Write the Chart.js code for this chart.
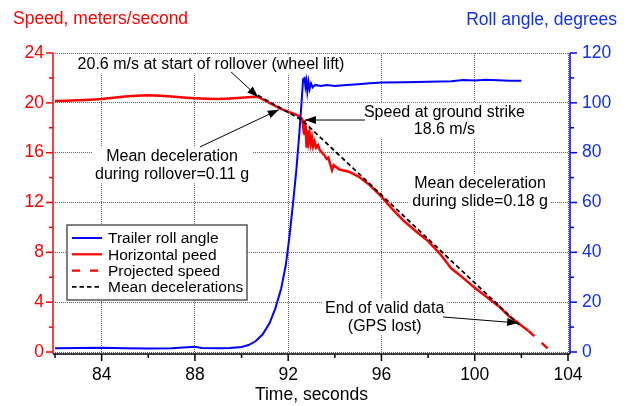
<!DOCTYPE html>
<html><head><meta charset="utf-8">
<script src="https://cdn.jsdelivr.net/npm/chart.js@4/dist/chart.umd.min.js"></script>
<style>html,body{margin:0;padding:0;background:#fff}#wrap{width:629px;height:406px}</style>
</head><body><div id="wrap"><canvas id="c" width="629" height="406"></canvas></div>
<script>
// ---- data ----
const speedTime = [82.0,82.5,83.0,83.5,84.0,84.5,85.0,85.5,86.0,86.5,87.0,87.5,88.0,88.5,89.0,89.5,90.0,90.4,90.7,91.0,91.3,91.6,91.9,92.2,92.45,92.6,92.64,92.68,92.71,92.75,92.79,92.83,92.87,92.92,92.97,93.02,93.07,93.13,93.2,93.28,93.36,93.45,93.55,93.65,93.72,93.8,93.88,93.95,94.2,94.6,95.0,95.5,96.0,96.5,97.0,97.5,98.0,98.5,99.0,99.5,100.0,100.5,101.0,101.5,102.0,102.3];
const speedValues = [20.15,20.17,20.2,20.25,20.31,20.4,20.5,20.57,20.6,20.57,20.5,20.42,20.36,20.32,20.3,20.34,20.4,20.46,20.48,20.2,19.9,19.6,19.35,19.15,18.95,18.7,18.1,18.6,17.4,18.2,16.4,17.8,16.9,17.5,16.7,17.2,16.5,16.9,16.4,16.6,16.2,16.0,15.8,15.5,15.6,15.1,14.6,15.0,14.65,14.47,14.1,13.4,12.47,11.4,10.45,9.65,8.9,7.9,6.7,5.95,5.15,4.44,3.72,2.82,2.12,1.7];
const rollTime = [82.0,83.0,84.0,85.0,86.0,87.0,88.0,88.3,89.0,89.5,90.0,90.3,90.6,90.9,91.2,91.45,91.7,91.9,92.05,92.2,92.35,92.48,92.58,92.64,92.7,92.74,92.78,92.82,92.87,92.92,92.98,93.05,93.15,93.4,93.65,94.0,94.5,95.0,95.5,96.0,97.0,98.0,99.0,99.5,100.0,100.5,101.0,101.5,102.0];
const rollValues = [1.5,1.6,1.7,1.5,1.4,1.5,2.1,1.6,1.5,1.6,2.0,2.8,4.3,7.0,11.5,17.5,25.5,35,46,59,73,88,101,109.5,110,106.5,108.8,104.5,108.5,105.5,107.8,106.2,107.2,106.8,107.2,106.8,107.2,107.5,107.9,108.2,108.3,108.5,108.7,109.2,109.0,109.3,109.1,108.9,108.9];
const projTime = [102.3,103.3];
const projValues = [1.7,0];
const decelTime = [90.7,92.6,101.9];
const decelValues = [20.6,18.6,2.2];
const xTicks = [84,88,92,96,100,104];
const xMinorTicks = [82,86,90,94,98,102];
const speedTicks = [0,4,8,12,16,20,24];
const speedMinorTicks = [2,6,10,14,18,22];
const rollTicks = [0,20,40,60,80,100,120];
const rollMinorTicks = [10,30,50,70,90,110];
const seriesLabels = ['Trailer roll angle','Horizontal peed','Projected speed','Mean decelerations'];

const RED='#ff0000', BLUE='#0000ff', BLUETXT='#1030f0';
const FONT='"Liberation Sans", Arial, sans-serif';
const LH = 17.5;
// annotation texts; anchor = centre of first line in (time, speed) units
const notes = [
  {lines:['20.6 m/s at start of rollover (wheel lift)'], t:88.69, v:23.12},
  {lines:['Mean deceleration','during rollover=0.11 g'], t:87.02, v:15.73},
  {lines:['Speed at ground strike','18.6 m/s'], t:98.70, v:19.30},
  {lines:['Mean deceleration','during slide=0.18 g'], t:100.23, v:13.57},
  {lines:['End of valid data','(GPS lost)'], t:96.14, v:3.53}
];
const arrows = [
  [89.55,22.48, 90.71,20.47],
  [88.22,16.46, 91.60,19.45],
  [95.29,18.62, 92.72,18.62],
  [98.64,2.81, 101.86,2.33]
];

const pts = (xs, ys) => xs.map((x,i)=>({x, y: ys[i]}));

function arrow(ctx,x1,y1,x2,y2){
  ctx.beginPath(); ctx.moveTo(x1,y1); ctx.lineTo(x2,y2); ctx.stroke();
  const a=Math.atan2(y2-y1,x2-x1), L=11, W=4;
  ctx.beginPath();
  ctx.moveTo(x2,y2);
  ctx.lineTo(x2-L*Math.cos(a)+W*Math.sin(a), y2-L*Math.sin(a)-W*Math.cos(a));
  ctx.lineTo(x2-L*Math.cos(a)-W*Math.sin(a), y2-L*Math.sin(a)+W*Math.cos(a));
  ctx.closePath(); ctx.fill();
}

const overlay = {
  id:'overlay',
  beforeDraw(chart){
    const c=chart.ctx; c.save(); c.fillStyle='#fff'; c.fillRect(0,0,chart.width,chart.height); c.restore();
  },
  beforeDatasetsDraw(chart){
    const {ctx} = chart; const xs=chart.scales.x, ys=chart.scales.y;
    ctx.save(); ctx.font = '16px '+FONT; ctx.fillStyle='#fff';
    notes.forEach(n=>{
      const cx=xs.getPixelForValue(n.t), cy=ys.getPixelForValue(n.v);
      const w=Math.max(...n.lines.map(l=>ctx.measureText(l).width))+6;
      const h=n.lines.length*LH+1;
      ctx.fillRect(cx-w/2, cy-LH/2, w, h);
    });
    ctx.restore();
  },
  afterDraw(chart){
    const {ctx, chartArea:a} = chart; const xs=chart.scales.x, ys=chart.scales.y, y2=chart.scales.y2;
    ctx.save();
    // axes
    ctx.lineWidth=1.5;
    ctx.strokeStyle=RED; ctx.beginPath(); ctx.moveTo(a.left-2,a.top); ctx.lineTo(a.left-2,a.bottom+2); ctx.stroke();
    speedTicks.concat(speedMinorTicks).forEach(v=>{const y=ys.getPixelForValue(v); const L=speedTicks.includes(v)?7:4; ctx.beginPath(); ctx.moveTo(a.left-2,y); ctx.lineTo(a.left-2-L,y); ctx.stroke();});
    ctx.strokeStyle=BLUE; ctx.beginPath(); ctx.moveTo(a.right+2,a.top); ctx.lineTo(a.right+2,a.bottom+2); ctx.stroke();
    rollTicks.concat(rollMinorTicks).forEach(v=>{const y=y2.getPixelForValue(v); const L=rollTicks.includes(v)?7:4; ctx.beginPath(); ctx.moveTo(a.right+2,y); ctx.lineTo(a.right+2+L,y); ctx.stroke();});
    ctx.strokeStyle='#000'; ctx.beginPath(); ctx.moveTo(a.left-2,a.bottom+2); ctx.lineTo(a.right+2,a.bottom+2); ctx.stroke();
    xTicks.concat(xMinorTicks).forEach(v=>{const x=xs.getPixelForValue(v); const L=xTicks.includes(v)?7:4; ctx.beginPath(); ctx.moveTo(x,a.bottom+2); ctx.lineTo(x,a.bottom+2+L); ctx.stroke();});
    // axis titles at top
    ctx.font='17.5px '+FONT; ctx.textBaseline='middle';
    ctx.fillStyle=RED; ctx.textAlign='left'; ctx.fillText('Speed, meters/second', 13, 19);
    ctx.fillStyle=BLUETXT; ctx.textAlign='right'; ctx.fillText('Roll angle, degrees', 617, 20);
    // annotations
    ctx.font='16px '+FONT; ctx.fillStyle='#000'; ctx.textAlign='center';
    notes.forEach(n=>{
      const cx=xs.getPixelForValue(n.t), cy=ys.getPixelForValue(n.v);
      n.lines.forEach((l,i)=>ctx.fillText(l,cx,cy+i*LH+1));
    });
    ctx.strokeStyle='#000'; ctx.lineWidth=1; ctx.fillStyle='#000';
    arrows.forEach(r=>arrow(ctx, xs.getPixelForValue(r[0]), ys.getPixelForValue(r[1]), xs.getPixelForValue(r[2]), ys.getPixelForValue(r[3])));
    // legend
    const lx=a.left+12, ly=a.top+172, lw=180, lh=75;
    ctx.fillStyle='#fff'; ctx.fillRect(lx,ly,lw,lh);
    ctx.strokeStyle='#555'; ctx.lineWidth=1.5; ctx.strokeRect(lx,ly,lw,lh);
    ctx.font='15.5px '+FONT; ctx.textAlign='left'; ctx.fillStyle='#000';
    const ds = chart.data.datasets;
    ds.forEach((d,i)=>{
      const y = ly+13+i*16.3;
      ctx.save(); ctx.strokeStyle=d.borderColor; ctx.lineWidth=Math.min(d.borderWidth,2.2); ctx.setLineDash(d.borderDash||[]);
      ctx.beginPath(); ctx.moveTo(lx+5,y); ctx.lineTo(lx+35,y); ctx.stroke(); ctx.restore();
      ctx.fillText(d.label, lx+41, y+1);
    });
    ctx.restore();
  }
};

const gridOpts = {color:'#606060', lineWidth:1, drawTicks:false};
new Chart(document.getElementById('c'), {
  type:'line',
  data:{datasets:[
    {label:seriesLabels[0], data:pts(rollTime,rollValues), yAxisID:'y2', borderColor:BLUE, borderWidth:2, pointRadius:0, tension:0, order:1},
    {label:seriesLabels[1], data:pts(speedTime,speedValues), yAxisID:'y', borderColor:RED, borderWidth:2.5, pointRadius:0, tension:0, order:2},
    {label:seriesLabels[2], data:pts(projTime,projValues), yAxisID:'y', borderColor:RED, borderWidth:2.5, borderDash:[8,10], pointRadius:0, tension:0, order:3},
    {label:seriesLabels[3], data:pts(decelTime,decelValues), yAxisID:'y', borderColor:'#000', borderWidth:1.8, borderDash:[4.5,3], pointRadius:0, tension:0, order:0}
  ]},
  options:{
    responsive:false, devicePixelRatio:1, animation:false,
    layout:{padding:{top:53,left:0,right:0,bottom:0}},
    plugins:{legend:{display:false}, tooltip:{enabled:false}},
    scales:{
      x:{type:'linear', position:'bottom', min:82, max:104,
        afterBuildTicks:s=>{s.ticks=xTicks.map(v=>({value:v}));},
        afterFit:s=>{s.height=54;},
        ticks:{color:'#000', font:{family:FONT,size:17.5}, padding:13, maxRotation:0, autoSkip:false},
        grid:gridOpts, border:{display:false, dash:[1,1]},
        title:{display:true, text:'Time, seconds', color:'#000', font:{family:FONT,size:17.5}, padding:0}},
      y:{type:'linear', position:'left', min:0, max:24,
        afterBuildTicks:s=>{s.ticks=speedTicks.map(v=>({value:v}));},
        afterFit:s=>{s.width=55;},
        ticks:{color:RED, font:{family:FONT,size:17.5}, padding:11},
        grid:gridOpts, border:{display:false, dash:[1,1]}},
      y2:{type:'linear', position:'right', min:0, max:120,
        afterBuildTicks:s=>{s.ticks=rollTicks.map(v=>({value:v}));},
        afterFit:s=>{s.width=61;},
        ticks:{color:BLUETXT, font:{family:FONT,size:17.5}, padding:14},
        grid:{drawOnChartArea:false, drawTicks:false}, border:{display:false}}
    }
  },
  plugins:[overlay]
});
</script></body></html>
